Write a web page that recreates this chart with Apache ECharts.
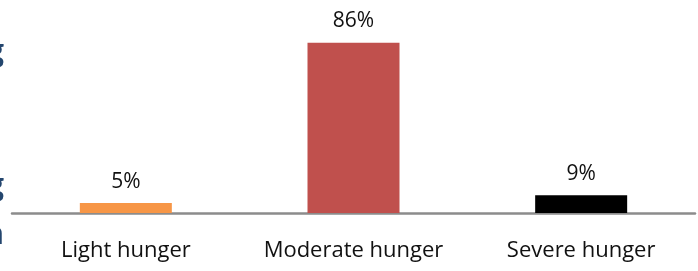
<!DOCTYPE html>
<html>
<head>
<meta charset="utf-8">
<script src="https://cdn.jsdelivr.net/npm/echarts@6/dist/echarts.min.js"></script>
<style>
  html, body { margin: 0; padding: 0; background: #fff; }
  #chart { width: 698px; height: 271px; }
</style>
</head>
<body>
<div id="chart"></div>
<script>
var categories = ['Light hunger', 'Moderate hunger', 'Severe hunger'];
var values = [5, 86, 9];
var barColors = ['#f79646', '#c0504d', '#000000'];

var chart = echarts.init(document.getElementById('chart'));
var fragFont = 'bold 30px "Open Sans"';
var option = {
  animation: false,
  grid: { left: 12, right: 3, top: 15, bottom: 58 },
  xAxis: {
    type: 'category',
    data: categories,
    axisLine: { lineStyle: { color: '#8c8c8c', width: 2.5 } },
    axisTick: { show: false },
    axisLabel: {
      interval: 0,
      color: '#111',
      fontFamily: 'Open Sans',
      fontSize: 22,
      margin: 27
    }
  },
  yAxis: {
    type: 'value',
    min: 0,
    max: 100,
    show: false
  },
  series: [{
    type: 'bar',
    barWidth: 92,
    data: values.map(function (v, i) {
      return { value: v, itemStyle: { color: barColors[i] } };
    }),
    label: {
      show: true,
      position: 'top',
      distance: 11,
      formatter: '{c}%',
      color: '#111',
      fontFamily: 'Open Sans',
      fontSize: 21
    }
  }],
  // cut-off text from the neighbouring area on the left edge
  graphic: [
    { type: 'text', x: 4, y: 37, style: { text: 'g', fill: '#24466e', font: fragFont, textAlign: 'right' } },
    { type: 'text', x: 4, y: 171, style: { text: 'g', fill: '#24466e', font: fragFont, textAlign: 'right' } },
    { type: 'text', x: 4, y: 220, style: { text: 'h', fill: '#24466e', font: fragFont, textAlign: 'right' } }
  ]
};
chart.setOption(option);
</script>
</body>
</html>
